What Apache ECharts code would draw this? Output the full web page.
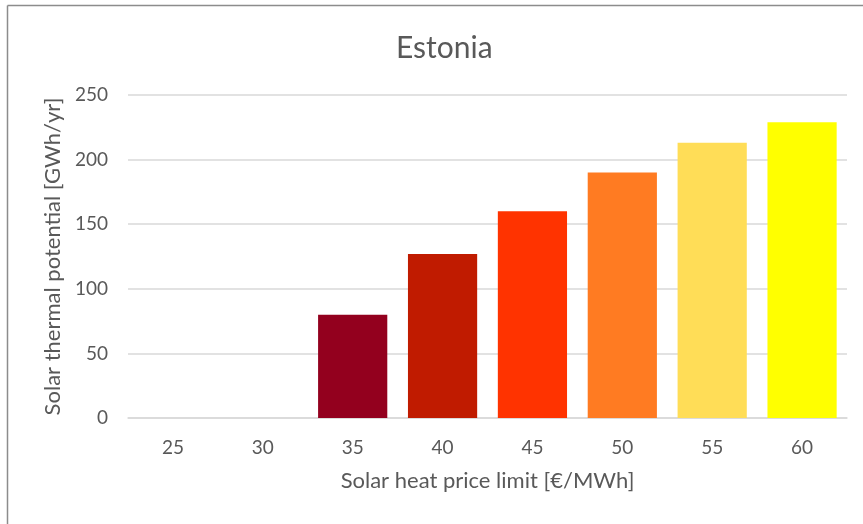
<!DOCTYPE html>
<html>
<head>
<meta charset="utf-8">
<script src="https://cdn.jsdelivr.net/npm/echarts@6/dist/echarts.min.js"></script>
<style>
html,body{margin:0;padding:0;background:#fff;}
#c{width:863px;height:524px;}
</style>
</head>
<body>
<div id="c"></div>
<script>
const categories = ['25','30','35','40','45','50','55','60'];
const values = [0, 0, 80, 127, 160, 190, 213, 229];
const barColors = ['#93001E','#93001E','#93001E','#C01B00','#FF3300','#FF7B22','#FFDD57','#FFFF00'];
const titleText = 'Estonia';
const xName = 'Solar heat price limit [€/MWh]';
const yName = 'Solar thermal potential [GWh/yr]';

const font = 'Lato, "Open Sans", sans-serif';
const chart = echarts.init(document.getElementById('c'));
chart.setOption({
  animation: false,
  backgroundColor: '#fff',
  title: {
    text: titleText, left: 391, top: 28,
    textStyle: {fontFamily: font, fontSize: 30, fontWeight: 'normal', color: '#595959'}
  },
  graphic: [
    {type: 'line', shape: {x1: 7.5, y1: 5.5, x2: 7.5, y2: 524}, style: {stroke: '#8c8c8c', lineWidth: 1.5}},
    {type: 'line', shape: {x1: 7.5, y1: 5.5, x2: 863, y2: 5.5}, style: {stroke: '#8c8c8c', lineWidth: 1.5}}
  ],
  grid: {left: 128, right: 16, top: 95, bottom: 106},
  xAxis: {
    type: 'category', data: categories,
    name: xName, nameLocation: 'middle', nameGap: 52,
    nameTextStyle: {fontFamily: font, fontSize: 22, color: '#595959'},
    axisLine: {lineStyle: {color: '#d9d9d9', width: 1.5}},
    axisTick: {show: false},
    axisLabel: {fontFamily: font, fontSize: 19, color: '#595959', margin: 20}
  },
  yAxis: {
    type: 'value', min: 0, max: 250, interval: 50,
    name: yName, nameLocation: 'middle', nameGap: 62,
    nameTextStyle: {fontFamily: font, fontSize: 22, color: '#595959'},
    axisLine: {show: false}, axisTick: {show: false},
    axisLabel: {fontFamily: font, fontSize: 19, color: '#595959', margin: 20},
    splitLine: {lineStyle: {color: '#d9d9d9', width: 1.5}}
  },
  series: [{
    type: 'bar',
    barCategoryGap: '23%',
    data: values.map((v, i) => ({value: v, itemStyle: {color: barColors[i]}}))
  }]
});
</script>
</body>
</html>
